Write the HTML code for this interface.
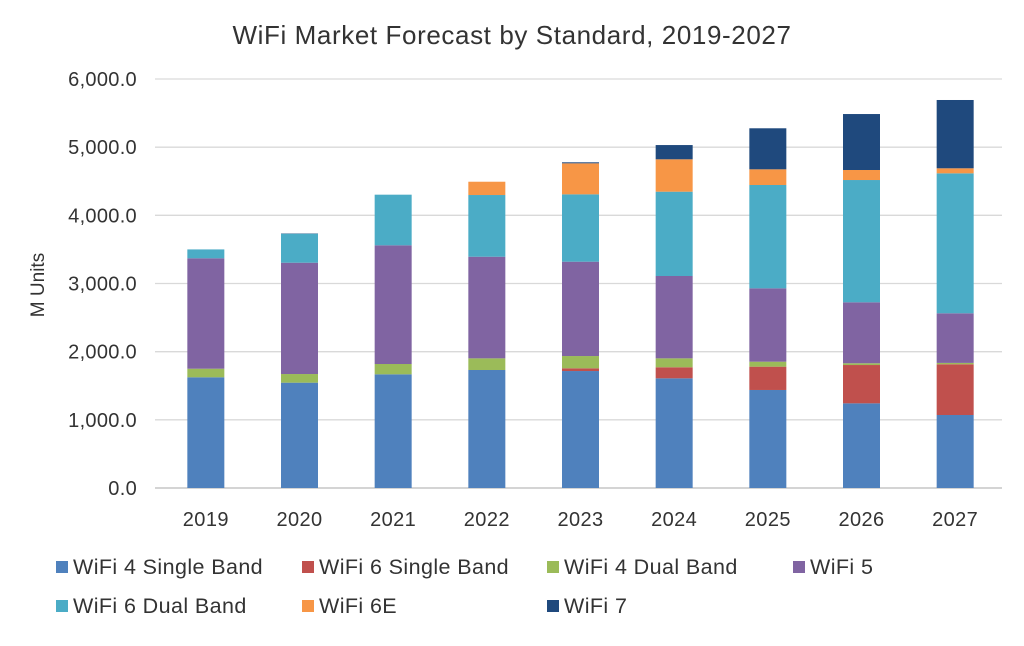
<!DOCTYPE html>
<html><head><meta charset="utf-8"><style>
body{margin:0;background:#fff;font-family:"Liberation Sans",sans-serif;}
svg text{font-family:"Liberation Sans",sans-serif;fill:#333;}
</style></head><body>
<svg id="chart" width="1024" height="641" viewBox="0 0 1024 641">
<text x="512" y="44" text-anchor="middle" font-size="26" letter-spacing="0.6">WiFi Market Forecast by Standard, 2019-2027</text>
<text transform="translate(44,285) rotate(-90)" text-anchor="middle" font-size="19">M Units</text>
<g id="grid"></g><g id="bars"></g><g id="xl"></g><g id="legend"></g>
</svg>
<script>
const categories=["2019","2020","2021","2022","2023","2024","2025","2026","2027"];
const seriesNames=["WiFi 4 Single Band","WiFi 6 Single Band","WiFi 4 Dual Band","WiFi 5","WiFi 6 Dual Band","WiFi 6E","WiFi 7"];
const wifi4SB=[1624,1545,1668,1731,1716,1609,1438,1242,1071];
const wifi6SB=[0,0,0,0,40,162,342,562,744];
const wifi4DB=[126,127,151,171,180,131,73,26,20];
const wifi5=[1620,1633,1741,1491,1384,1208,1076,894,728];
const wifi6DB=[130,425,743,905,988,1237,1516,1794,2053];
const wifi6E=[0,0,0,195,455,475,230,147,74];
const wifi7=[0,5,0,0,15,209,602,821,1002];
const yTicks=[0,1000,2000,3000,4000,5000,6000];
const colors=["#4f81bd","#c0504d","#9bbb59","#8064a2","#4bacc6","#f79646","#1f497d"];
const series=[wifi4SB,wifi6SB,wifi4DB,wifi5,wifi6DB,wifi6E,wifi7];
const NS="http://www.w3.org/2000/svg";
const y0=488,yTop=79,yMax=6000,xL=159,xR=1002;
const yS=v=>y0-(v/yMax)*(y0-yTop);
const step=(xR-xL)/categories.length;
const xS=i=>xL+step*(i+0.5);
function mk(t,a,p){const e=document.createElementNS(NS,t);for(const k in a)e.setAttribute(k,a[k]);p.appendChild(e);return e;}
const grid=document.getElementById('grid');
yTicks.forEach(v=>{
 const l=mk('line',{x1:155,x2:xR,y1:yS(v),y2:yS(v),stroke:v===0?'#bbb':'#d9d9d9','stroke-width':1.3},grid);
 
 
 const t=mk('text',{x:137,y:yS(v)+7,'text-anchor':'end','font-size':20,'letter-spacing':0.3},grid);
 t.textContent=v.toLocaleString('en-US',{minimumFractionDigits:1,maximumFractionDigits:1});
 
 
});
const bars=document.getElementById('bars');
categories.forEach((c,i)=>{
 let acc=0;
 series.forEach((s,k)=>{
  const v=s[i]; if(v<=0)return;
  const r=mk('rect',{x:xS(i)-18.5,width:37,y:yS(acc+v),height:yS(acc)-yS(acc+v),fill:colors[k]},bars);
  
  
  acc+=v;
 });
 const t=mk('text',{x:xS(i),y:526,'text-anchor':'middle','font-size':20,'letter-spacing':0.4},document.getElementById('xl'));
 t.textContent=c;
 
 
});
const lg=document.getElementById('legend');
const lx=[56,302,547,793];
seriesNames.forEach((n,k)=>{
 const row=Math.floor(k/4),col=k%4;
 const g=mk('g',{},lg);
 
 
 const y=567+row*39;
 mk('rect',{x:lx[col],y:y-6,width:12,height:12,fill:colors[k]},g);
 const t=mk('text',{x:lx[col]+17,y:y+7,'font-size':21.5,'letter-spacing':0.4},g);
 t.textContent=n;
});
</script>
</body></html>
